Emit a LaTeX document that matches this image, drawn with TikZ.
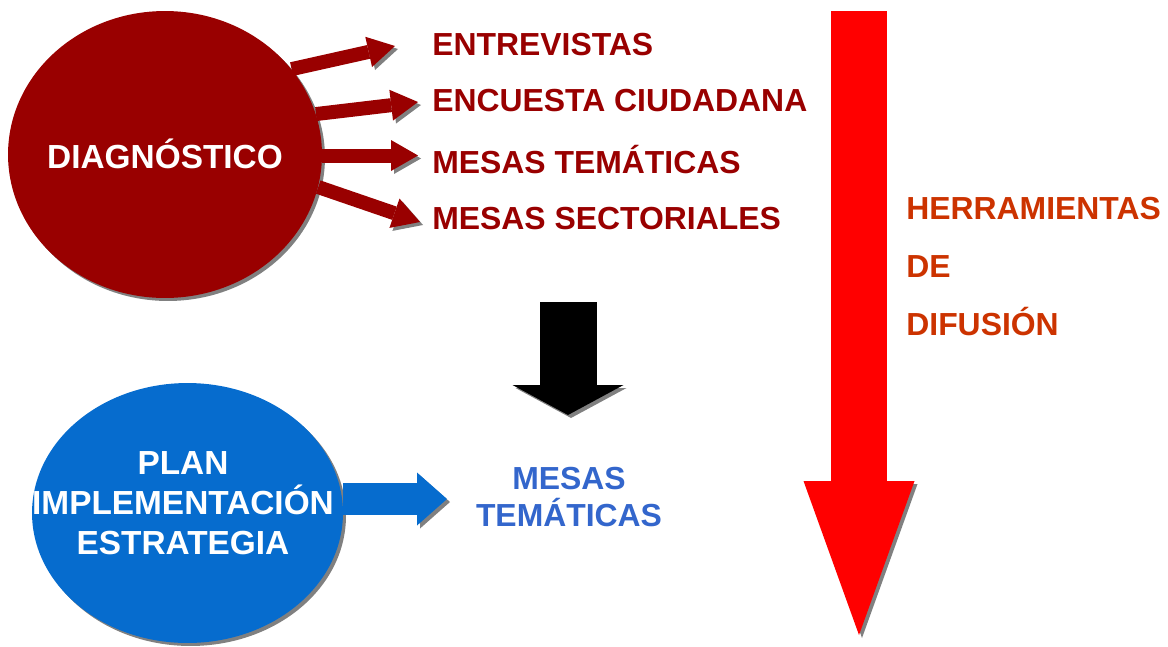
\documentclass[tikz,border=0pt]{standalone}
\usepackage{fontspec}
\setmainfont{Liberation Sans}
\usetikzlibrary{calc, positioning, arrows.meta, shapes.geometric, shadows}
\definecolor{diagred}{RGB}{153,0,0}
\definecolor{planblue}{RGB}{6,108,206}
\definecolor{textblue}{RGB}{51,102,204}
\definecolor{arrowred}{RGB}{255,0,0}
\definecolor{toolorange}{RGB}{204,51,0}
\definecolor{shadowgray}{RGB}{128,128,128}

\begin{document}
\begin{tikzpicture}[
    x=0.02cm, y=-0.02cm,
    every node/.style={inner sep=0pt, font=\bfseries\fontsize{18.15}{21.5}\selectfont},
    bubble/.style={ellipse, drop shadow={shadow xshift=0.06cm, shadow yshift=-0.06cm, fill=shadowgray, opacity=1}},
    bubbletext/.style={text=white, align=center, font=\bfseries\fontsize{19}{22.7}\selectfont},
    item/.style={text=diagred, anchor=base west},
    blockarrow/.style n args={3}{line width=#1, -{Triangle[width=#2, length=#3, line width=0pt]},
        preaction={draw=shadowgray, transform canvas={xshift=0.06cm, yshift=-0.06cm}}}
]
\useasboundingbox (0,0) rectangle (1168,646);

\node[bubble, fill=diagred, minimum width=6.28cm, minimum height=5.74cm] (diag) at (165,154.5) {};
\node[bubbletext, anchor=base] (diagtext) at (165,168.3) {DIAGNÓSTICO};
\node[bubble, fill=planblue, minimum width=6.22cm, minimum height=5.2cm] (plan) at (187.5,513) {};
\node[bubbletext, anchor=north] (plantext) at (183,451.5) {PLAN\\IMPLEMENTACIÓN\\ESTRATEGIA};

\node[item] (entrev) at (432,55.7) {ENTREVISTAS};
\node[item] (encuesta) at (432,111.7) {ENCUESTA CIUDADANA};
\node[item] (tematicas) at (432,173.5) {MESAS TEMÁTICAS};
\node[item] (sectoriales) at (432,229.3) {MESAS SECTORIALES};
\node[text=textblue, align=center, anchor=north] (mesas) at (569,466.5) {MESAS\\TEMÁTICAS};
\node[text=toolorange, align=left, anchor=north west, font=\bfseries\fontsize{18.15}{33.2}\selectfont] (herram) at (906,196.5) {HERRAMIENTAS\\DE\\DIFUSIÓN};

\coordinate (tip1) at (395,46);
\coordinate (tip2) at (418,102);
\coordinate (tip3) at (418,155.5);
\coordinate (tip4) at (420,222);
\coordinate (downtop) at (568,302);
\coordinate (downtip) at (568,415);
\coordinate (bluetip) at (447,499);
\coordinate (redtop) at (859,11);
\coordinate (redtip) at (859,635);

\draw[blockarrow={0.28cm}{0.62cm}{0.54cm}, draw=diagred] (diag.34) -- (tip1);
\draw[blockarrow={0.28cm}{0.62cm}{0.54cm}, draw=diagred] (diag.15) -- (tip2);
\draw[blockarrow={0.28cm}{0.62cm}{0.54cm}, draw=diagred] (diag.east |- tip3) -- (tip3);
\draw[blockarrow={0.28cm}{0.62cm}{0.54cm}, draw=diagred] (diag.-12) -- (tip4);
\draw[blockarrow={1.14cm}{2.22cm}{0.6cm}, draw=black] (downtop) -- (downtip);
\draw[blockarrow={0.64cm}{1.06cm}{0.6cm}, draw=planblue] (plan.east |- bluetip) -- (bluetip);
\draw[blockarrow={1.12cm}{2.22cm}{3.08cm}, draw=arrowred] (redtop) -- (redtip);
\end{tikzpicture}
\end{document}
